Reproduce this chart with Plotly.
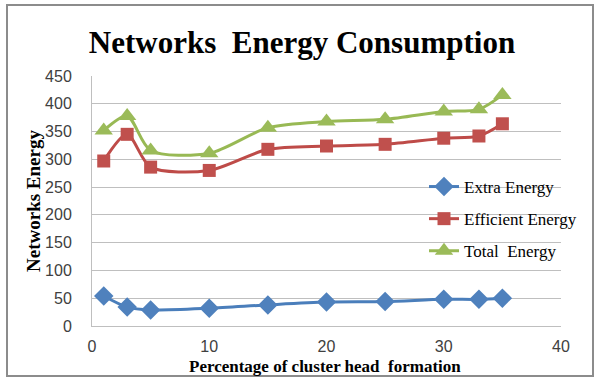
import plotly.graph_objects as go

# Cluster-head percentage (x) and network energy per scheme
cluster_pct = [1, 3, 5, 10, 15, 20, 25, 30, 33, 35]
extra_energy = [54, 34, 29, 32, 38, 43, 44, 48, 48, 50]
efficient_energy = [297, 345, 286, 280, 318, 324, 327, 338, 342, 364]
total_energy = [352, 378, 316, 311, 357, 368, 372, 386, 390, 416]

series_names = ["Extra Energy", "Efficient Energy", "Total\u00a0 Energy"]
x_ticks = [0, 10, 20, 30, 40]
y_ticks = [0, 50, 100, 150, 200, 250, 300, 350, 400, 450]

W, H = 594, 378
L, R, T, B = 92, 33, 76, 52
PW, PH = W - L - R, H - T - B


def px_to_paper(px, py):
    return (px - L) / PW, (H - B - py) / PH


fig = go.Figure()
styles = [
    (extra_energy, "#4A7EBB", "#4F81BD", "diamond", 15),
    (efficient_energy, "#BE4B48", "#C0504D", "square", 13),
    (total_energy, "#98B954", "#9BBB59", "triangle-up", 16),
]
for i, (vals, lc, mc, sym, ms) in enumerate(styles):
    fig.add_trace(go.Scatter(
        x=cluster_pct, y=vals, name=series_names[i],
        mode="lines+markers",
        line=dict(color=lc, width=3, shape="spline", smoothing=0.8),
        marker=dict(color=mc, symbol=sym, size=ms),
        legendgroup=f"g{i}",
    ))

x0, y0 = px_to_paper(7, 5)
x1, y1 = px_to_paper(593, 376)
fig.add_shape(type="rect", xref="paper", yref="paper",
              x0=x0, y0=y1, x1=x1, y1=y0,
              line=dict(color="#8c8c8c", width=2), layer="below")

serif = "Liberation Serif"
sans = "Liberation Sans"

# Axis titles placed as annotations for exact positioning
xt_x, xt_y = px_to_paper(325, 366)
yt_x, yt_y = px_to_paper(33, 201)
fig.add_annotation(text="<b>Percentage of cluster head\u00a0 formation</b>",
                   xref="paper", yref="paper", x=xt_x, y=xt_y,
                   xanchor="center", yanchor="middle", showarrow=False,
                   font=dict(family=serif, size=17, color="black"))
fig.add_annotation(text="<b>Networks Energy</b>",
                   xref="paper", yref="paper", x=yt_x, y=yt_y,
                   xanchor="center", yanchor="middle", showarrow=False,
                   textangle=-90,
                   font=dict(family=serif, size=19, color="black"))

fig.update_layout(
    width=W, height=H,
    margin=dict(l=L, r=R, t=T, b=B, autoexpand=False),
    paper_bgcolor="white", plot_bgcolor="white",
    title=dict(text="<b>Networks\u00a0 Energy Consumption</b>",
               x=302 / W, xanchor="center", y=1 - 42 / H, yanchor="middle",
               font=dict(family=serif, size=31, color="black")),
    legend=dict(x=px_to_paper(424, 0)[0], y=px_to_paper(0, 169)[1],
                xanchor="left", yanchor="top",
                bgcolor="rgba(0,0,0,0)", tracegroupgap=7,
                font=dict(family=serif, size=17, color="black")),
    xaxis=dict(range=[0, 40], tickvals=x_ticks, showgrid=False,
               automargin=False,
               showline=True, linecolor="#bfbfbf", linewidth=1,
               zeroline=False, ticks="outside", ticklen=0,
               ticklabelstandoff=6,
               tickfont=dict(family=sans, size=16, color="#404040")),
    yaxis=dict(range=[0, 450], tickvals=y_ticks, showgrid=True,
               automargin=False,
               gridcolor="#bfbfbf", gridwidth=1,
               showline=True, linecolor="#bfbfbf", linewidth=1,
               zeroline=False, ticks="outside", ticklen=0,
               ticklabelstandoff=16,
               tickfont=dict(family=sans, size=16, color="#404040")),
)

fig.write_html("out.html")
